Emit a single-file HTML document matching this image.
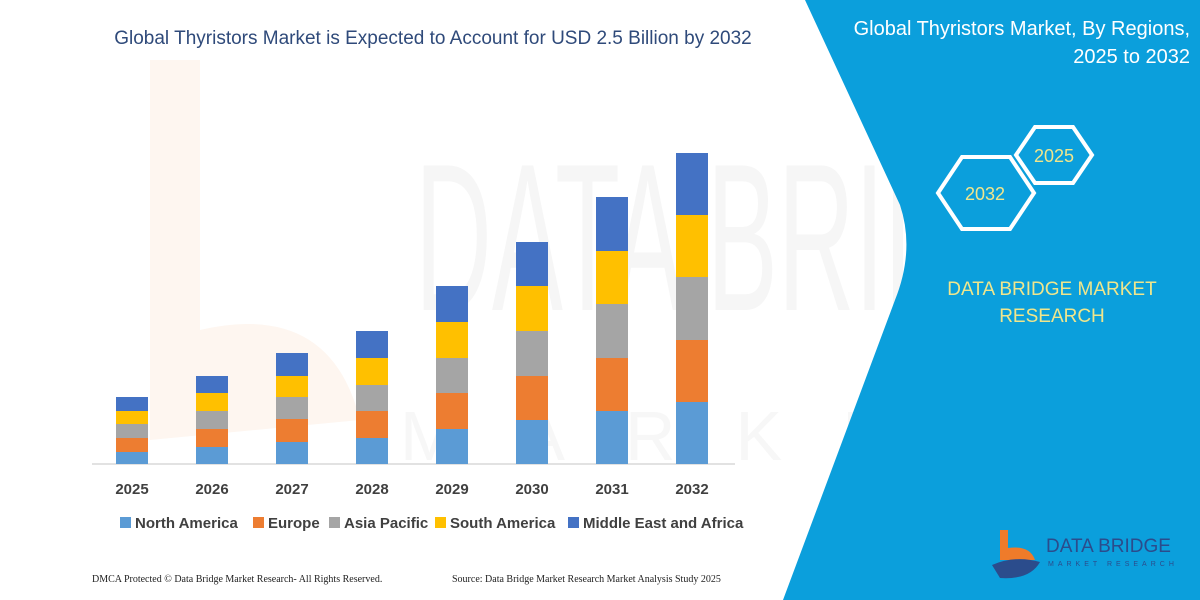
<!DOCTYPE html>
<html><head><meta charset="utf-8"><style>
body{margin:0;width:1200px;height:600px;overflow:hidden;background:#fff;font-family:"Liberation Sans",sans-serif}
</style></head><body>
<svg width="1200" height="600" viewBox="0 0 1200 600" xmlns="http://www.w3.org/2000/svg" style="position:absolute;left:0;top:0">
<rect width="1200" height="600" fill="#fff"/>
<path d="M150,60 L200,60 L200,330 Q330,300 360,420 L150,440 Z" fill="#fef6f0"/>
<text x="415" y="310" font-size="210" fill="#f6f6f6" font-family="Liberation Sans" textLength="700" lengthAdjust="spacingAndGlyphs">DATA BRIDGE</text>
<text x="400" y="460" font-size="70" fill="#f7f7f7" letter-spacing="60">MARKET RESEARCH</text>
<path d="M805,0 L1200,0 L1200,600 L783,600 L895,300 Q915,250 900,205 Z" fill="#0b9fdc"/>
<text x="433" y="44" text-anchor="middle" font-size="19" fill="#2f4a7a">Global Thyristors Market is Expected to Account for USD 2.5 Billion by 2032</text>
<g fill="#fff" font-size="20" text-anchor="end"><text x="1190" y="35">Global Thyristors Market, By Regions,</text><text x="1190" y="63">2025 to 2032</text></g>
<g fill="none" stroke="#fff" stroke-width="4">
<polygon points="938,193 962,157 1010,157 1034,193 1010,229 962,229"/>
<polygon points="1016,155 1035,127 1073,127 1092,155 1073,183 1035,183"/>
</g>
<g fill="#f0e68c" font-size="18" text-anchor="middle"><text x="985" y="200">2032</text><text x="1054" y="162">2025</text></g>
<g fill="#f0e68c" font-size="19" text-anchor="middle"><text x="1052" y="295">DATA BRIDGE MARKET</text><text x="1052" y="322">RESEARCH</text></g>
<path d="M1000,530 L1008,530 L1008,548 Q1030,545 1035,560 L1000,560 Z" fill="#ef7b2a"/>
<path d="M992,565 Q1015,555 1040,562 Q1030,580 1000,578 Z" fill="#2b4c8c"/>
<text x="1046" y="552" font-size="19" fill="#2b4c8c">DATA BRIDGE</text>
<text x="1048" y="566" font-size="7" fill="#2b4c8c" letter-spacing="4">MARKET RESEARCH</text>
<line x1="92" y1="464" x2="735" y2="464" stroke="#d9d9d9" stroke-width="1.5"/>
<g font-size="15" font-weight="bold" fill="#404040" text-anchor="middle">
<text x="132" y="494">2025</text><text x="212" y="494">2026</text><text x="292" y="494">2027</text><text x="372" y="494">2028</text><text x="452" y="494">2029</text><text x="532" y="494">2030</text><text x="612" y="494">2031</text><text x="692" y="494">2032</text>
</g>
<g font-size="15" font-weight="bold" fill="#404040">
<rect x="120" y="517" width="11" height="11" fill="#5b9bd5"/><text x="135" y="528">North America</text>
<rect x="253" y="517" width="11" height="11" fill="#ed7d31"/><text x="268" y="528">Europe</text>
<rect x="329" y="517" width="11" height="11" fill="#a5a5a5"/><text x="344" y="528">Asia Pacific</text>
<rect x="435" y="517" width="11" height="11" fill="#ffc000"/><text x="450" y="528">South America</text>
<rect x="568" y="517" width="11" height="11" fill="#4472c4"/><text x="583" y="528">Middle East and Africa</text>
</g>
<g font-size="10" fill="#222" font-family="Liberation Serif">
<text x="92" y="582">DMCA Protected © Data Bridge Market Research-  All Rights Reserved.</text>
<text x="452" y="582">Source: Data Bridge Market Research  Market Analysis Study 2025</text>
</g>
<g>
<g transform="translate(116,0)"><rect y="397" width="32" height="14" fill="#4472c4"/><rect y="411" width="32" height="13" fill="#ffc000"/><rect y="424" width="32" height="14" fill="#a5a5a5"/><rect y="438" width="32" height="14" fill="#ed7d31"/><rect y="452" width="32" height="12" fill="#5b9bd5"/></g>
<g transform="translate(196,0)"><rect y="376" width="32" height="17" fill="#4472c4"/><rect y="393" width="32" height="18" fill="#ffc000"/><rect y="411" width="32" height="18" fill="#a5a5a5"/><rect y="429" width="32" height="18" fill="#ed7d31"/><rect y="447" width="32" height="17" fill="#5b9bd5"/></g>
<g transform="translate(276,0)"><rect y="353" width="32" height="23" fill="#4472c4"/><rect y="376" width="32" height="21" fill="#ffc000"/><rect y="397" width="32" height="22" fill="#a5a5a5"/><rect y="419" width="32" height="23" fill="#ed7d31"/><rect y="442" width="32" height="22" fill="#5b9bd5"/></g>
<g transform="translate(356,0)"><rect y="331" width="32" height="27" fill="#4472c4"/><rect y="358" width="32" height="27" fill="#ffc000"/><rect y="385" width="32" height="26" fill="#a5a5a5"/><rect y="411" width="32" height="27" fill="#ed7d31"/><rect y="438" width="32" height="26" fill="#5b9bd5"/></g>
<g transform="translate(436,0)"><rect y="286" width="32" height="36" fill="#4472c4"/><rect y="322" width="32" height="36" fill="#ffc000"/><rect y="358" width="32" height="35" fill="#a5a5a5"/><rect y="393" width="32" height="36" fill="#ed7d31"/><rect y="429" width="32" height="35" fill="#5b9bd5"/></g>
<g transform="translate(516,0)"><rect y="242" width="32" height="44" fill="#4472c4"/><rect y="286" width="32" height="45" fill="#ffc000"/><rect y="331" width="32" height="45" fill="#a5a5a5"/><rect y="376" width="32" height="44" fill="#ed7d31"/><rect y="420" width="32" height="44" fill="#5b9bd5"/></g>
<g transform="translate(596,0)"><rect y="197" width="32" height="54" fill="#4472c4"/><rect y="251" width="32" height="53" fill="#ffc000"/><rect y="304" width="32" height="54" fill="#a5a5a5"/><rect y="358" width="32" height="53" fill="#ed7d31"/><rect y="411" width="32" height="53" fill="#5b9bd5"/></g>
<g transform="translate(676,0)"><rect y="153" width="32" height="62" fill="#4472c4"/><rect y="215" width="32" height="62" fill="#ffc000"/><rect y="277" width="32" height="63" fill="#a5a5a5"/><rect y="340" width="32" height="62" fill="#ed7d31"/><rect y="402" width="32" height="62" fill="#5b9bd5"/></g>
</g>
</svg>
</body></html>
